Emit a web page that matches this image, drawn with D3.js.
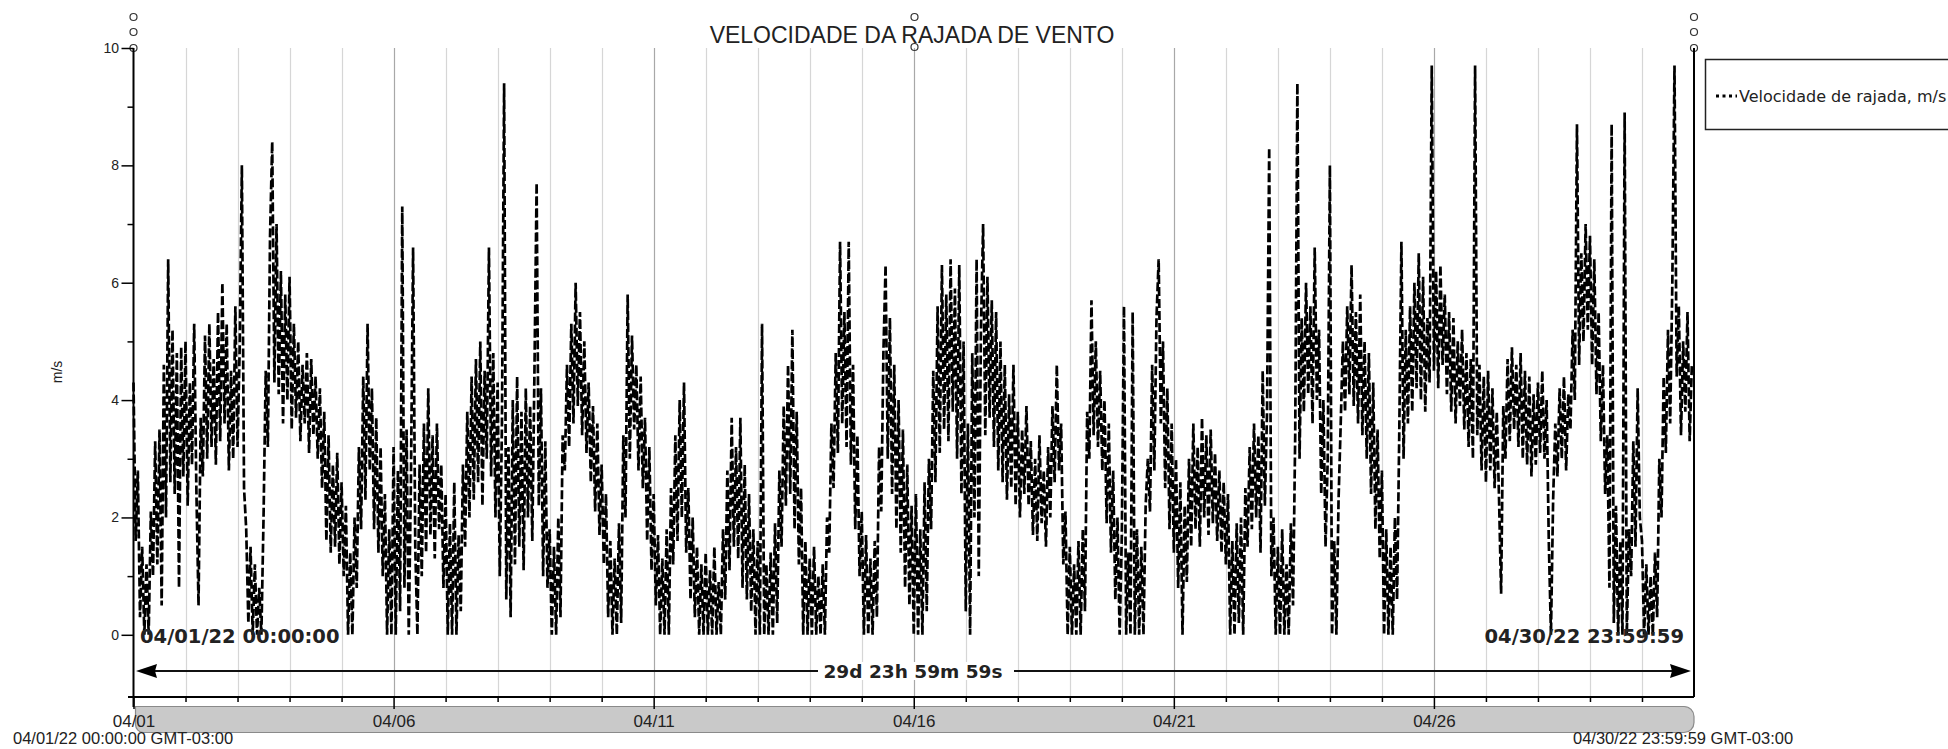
<!DOCTYPE html>
<html>
<head>
<meta charset="utf-8">
<script src="https://cdn.jsdelivr.net/npm/d3@7"></script>
<style>
  body { margin: 0; background: #fff; }
  svg { display: block; }
  text { font-family: "Liberation Sans", Arial, sans-serif; fill: #222; }
</style>
</head>
<body>
<svg id="chart" width="1948" height="749"></svg>
<script>
// --- chart data ---
const chartTitle = "VELOCIDADE DA RAJADA DE VENTO";
const yLabel = "m/s";
const seriesName = "Velocidade de rajada, m/s";
const startLabel = "04/01/22 00:00:00";
const endLabel = "04/30/22 23:59:59";
const spanLabel = "29d 23h 59m 59s";
const footLeft = "04/01/22 00:00:00  GMT-03:00";
const footRight = "04/30/22 23:59:59  GMT-03:00";
const yTicks = [0, 1, 2, 3, 4, 5, 6, 7, 8, 9, 10];
const startDate = new Date(2022, 3, 1, 0, 0, 0);
const endDate = new Date(2022, 3, 30, 23, 59, 59);

// hourly gust speed (m/s), one row per day, 04/01 .. 04/30
const gust = [
  4.3,1.6,2.8,0.3,1.5,0,1.2,0,2.1,1.0,3.3,1.2,3.5,0.5,4.6,2.0,6.4,2.6,5.2,2.4,4.8,0.8,4.9,2.7,
  5.0,2.2,4.3,2.9,5.3,2.5,0.5,3.7,2.7,5.1,3.0,5.3,3.2,4.7,2.9,5.5,3.3,6.0,3.6,5.3,2.8,4.5,3.0,5.6,
  3.2,4.9,8.0,2.5,1.8,0.2,1.5,0,1.2,0,0.8,0,2.0,4.5,3.2,6.8,8.4,4.3,7.0,4.1,6.2,3.6,5.8,4.0,
  6.1,3.5,5.3,3.7,5.0,3.3,4.6,3.6,4.8,3.1,4.7,3.4,4.4,3.0,4.2,2.5,3.8,1.6,3.4,1.4,2.9,1.5,3.1,1.2,
  2.6,1.0,2.2,0,1.4,0,2.0,0.8,3.2,1.8,4.4,2.3,5.3,2.8,4.2,1.8,3.7,1.4,3.2,1.0,2.4,0,1.8,0,
  3.2,0,2.8,0.4,7.3,0.8,3.5,0,2.6,6.6,1.5,0,2.9,1.0,3.6,1.4,4.2,1.7,3.4,1.3,3.6,1.8,2.9,0.8,
  2.4,0,1.9,0,2.6,0,1.7,0.4,2.9,1.5,3.8,2.0,4.4,2.3,4.7,2.6,5.0,2.2,4.5,3.0,6.6,2.7,4.8,2.0,
  4.3,1.0,3.6,9.4,0.6,3.2,0.3,4.0,1.2,4.4,1.5,3.8,1.1,4.2,2.0,3.9,1.6,4.5,7.7,2.2,4.2,1.0,3.3,0.8,
  1.8,0,1.5,0,2.0,0.3,3.4,2.8,4.6,3.2,5.3,3.6,6.0,3.9,5.5,3.4,5.0,3.1,4.3,2.6,3.9,2.1,3.6,1.7,
  2.9,1.2,2.4,0.3,1.6,0,1.3,0,1.9,0.2,3.4,2.0,5.8,3.0,5.1,3.5,4.6,2.8,4.4,2.5,3.7,1.6,3.2,1.1,
  2.4,0.5,1.7,0,1.3,0,1.8,0,2.5,1.2,3.4,1.6,4.0,2.0,4.3,1.4,2.5,0.6,2.0,0.3,1.5,0,1.2,0,
  1.4,0,1.1,0,1.5,0,0.9,0,1.8,0.6,2.8,1.1,3.7,1.5,3.2,1.3,3.7,0.8,2.9,0.6,2.4,0.4,1.8,0,
  1.6,0,5.3,0,1.2,0,1.4,0,1.9,0.2,2.8,1.5,3.9,2.2,4.6,2.4,5.2,1.8,3.8,1.2,2.5,0,1.6,0,
  1.3,0,1.5,0,1.0,0,1.2,0,2.0,1.4,3.6,2.5,4.8,3.1,6.7,3.6,5.5,3.2,6.7,2.9,4.6,1.8,3.4,1.0,
  2.1,0,1.7,0,1.3,0,1.6,0.3,3.2,2.1,4.8,6.3,3.0,5.4,2.4,4.6,1.8,4.0,1.4,3.5,0.8,2.9,0.5,2.2,
  0,2.4,0,1.8,0,2.6,0.4,3.0,1.8,4.5,2.6,5.6,3.1,6.3,3.5,5.8,3.3,6.4,3.8,5.9,3.0,6.3,2.4,5.0,
  0.4,3.6,0,4.8,2.0,6.4,1.0,5.2,7.0,3.4,6.1,3.7,5.7,3.2,5.5,2.8,5.0,2.6,4.6,2.3,4.1,2.5,4.6,2.2,
  3.8,2.0,3.5,2.4,3.9,2.2,3.3,1.7,3.0,1.6,3.4,1.9,2.8,1.5,3.2,2.0,3.9,2.6,4.6,2.8,3.6,1.2,2.1,0,
  1.5,0,1.2,0,1.6,0,1.8,0.4,3.8,3.0,5.7,3.4,5.0,3.2,4.5,2.8,4.0,1.9,3.6,1.4,2.8,0.6,2.0,0,
  1.7,5.6,0,1.4,0,5.5,0,1.8,0,1.5,0,2.2,3.0,2.1,4.6,2.8,5.4,6.4,3.6,5.0,2.5,4.2,1.8,3.6,
  1.4,3.0,0.8,2.6,0,2.2,0.9,3.0,1.5,3.6,1.8,3.2,1.5,3.7,2.0,3.4,1.7,3.5,1.9,3.1,1.6,2.8,1.4,2.6,
  1.2,2.4,0,1.6,0,1.9,0.2,2.0,0,2.5,1.5,3.2,1.8,3.6,2.0,3.4,1.4,4.5,2.2,3.8,8.3,1.0,2.0,0,
  1.5,0,1.8,0,1.2,0,1.9,0.5,3.4,9.4,3.0,5.4,3.8,6.0,4.1,5.6,3.6,6.6,4.0,5.2,2.4,4.0,1.5,3.0,
  8.0,0,1.6,0,2.3,3.6,5.0,3.8,5.6,4.1,6.3,3.9,5.5,3.6,5.8,3.4,5.0,3.0,4.8,2.4,4.3,1.8,3.5,1.3,
  2.8,0,1.8,0,1.5,0,2.0,0.6,3.4,6.7,3.0,5.2,3.6,5.6,3.8,6.0,4.2,6.5,4.0,6.1,3.8,5.4,4.3,9.7,
  4.5,6.2,4.2,6.3,4.6,5.8,4.1,5.5,3.8,5.4,3.6,5.0,3.9,5.2,3.5,4.8,3.2,4.7,3.0,9.7,3.4,4.6,2.8,4.4,
  2.6,4.5,2.8,4.2,2.5,3.8,2.4,0.7,3.9,3.0,4.7,3.3,4.9,3.5,4.6,3.2,4.8,3.0,4.5,2.9,4.4,2.7,4.1,2.9,
  4.3,3.1,4.5,3.0,4.0,1.6,0,2.3,3.6,2.7,4.2,3.0,4.4,2.8,4.1,3.5,5.2,4.0,8.7,4.6,6.5,5.0,7.0,5.2,
  6.8,4.6,6.4,4.1,5.5,3.3,4.6,2.4,3.4,0.8,8.7,0.2,2.2,0,1.6,0,8.9,0,1.8,1.0,3.3,1.5,4.2,2.0,
  1.6,0,1.2,0,1.0,0,1.4,0.3,3.0,2.0,4.4,3.1,5.2,3.6,6.0,9.7,4.4,5.6,3.4,5.0,3.8,5.5,3.3,4.6
];

// --- layout ---
const plot = { left: 133.5, right: 1694, top: 48, bottom: 697 };
const svg = d3.select("#chart");

const x = d3.scaleTime().domain([startDate, endDate]).range([plot.left, plot.right]);
const y = d3.scaleLinear().domain([-1.06, 10]).range([plot.bottom, plot.top]);

const days = d3.timeDay.range(startDate, endDate);
const isMajor = d => (d.getDate() - 1) % 5 === 0;
const fmtDay = d3.timeFormat("%m/%d");

// vertical day grid
svg.append("g")
  .selectAll("line")
  .data(days.slice(1))
  .join("line")
  .attr("x1", d => Math.round(x(d)) + 0.5)
  .attr("x2", d => Math.round(x(d)) + 0.5)
  .attr("y1", plot.top)
  .attr("y2", plot.bottom)
  .attr("stroke", d => isMajor(d) ? "#a8a8a8" : "#d6d6d6")
  .attr("stroke-width", 1.2);

// title
svg.append("text")
  .attr("x", 912)
  .attr("y", 43)
  .attr("text-anchor", "middle")
  .style("font-size", "23px")
  .text(chartTitle);

// little handle circles on top of the axes
const handles = [
  { cx: plot.left, cys: [17, 32, 48] },
  { cx: plot.right, cys: [17, 32, 48] },
  { cx: 914.5, cys: [17, 47] }
];
handles.forEach(h => {
  svg.append("g").selectAll("circle")
    .data(h.cys)
    .join("circle")
    .attr("cx", h.cx)
    .attr("cy", d => d)
    .attr("r", 3.5)
    .attr("fill", "none")
    .attr("stroke", "#333")
    .attr("stroke-width", 1.2);
});

// data line
const line = d3.line()
  .x((d, i) => x(d3.timeHour.offset(startDate, i)))
  .y(d => y(d));

svg.append("path")
  .datum(gust)
  .attr("d", line)
  .attr("fill", "none")
  .attr("stroke", "#000")
  .attr("stroke-width", 2.7)
  .attr("stroke-dasharray", "9,3");

// frame: left axis, right side, bottom
svg.append("line")
  .attr("x1", plot.left).attr("x2", plot.left)
  .attr("y1", plot.top).attr("y2", 707)
  .attr("stroke", "#000").attr("stroke-width", 2);
svg.append("line")
  .attr("x1", plot.right).attr("x2", plot.right)
  .attr("y1", plot.top).attr("y2", plot.bottom)
  .attr("stroke", "#000").attr("stroke-width", 2);
svg.append("line")
  .attr("x1", 128).attr("x2", plot.right)
  .attr("y1", plot.bottom).attr("y2", plot.bottom)
  .attr("stroke", "#000").attr("stroke-width", 2);

// y axis ticks + labels
const yAxis = svg.append("g")
  .attr("transform", `translate(${plot.left},0)`)
  .call(d3.axisLeft(y).tickValues(yTicks).tickSize(12).tickPadding(2)
    .tickFormat(d => d % 2 === 0 ? d : ""));
yAxis.select(".domain").remove();
yAxis.selectAll(".tick line")
  .attr("x2", d => d % 2 === 0 ? -12 : -6)
  .attr("stroke", "#000")
  .attr("stroke-width", 1.5);
yAxis.selectAll(".tick text")
  .attr("x", -14.5)
  .style("font-size", "14px")
  .style("font-family", "'Liberation Sans', Arial, sans-serif")
  .attr("fill", "#222");

svg.append("text")
  .attr("transform", "translate(62,372) rotate(-90)")
  .attr("text-anchor", "middle")
  .style("font-size", "14px")
  .text(yLabel);

// time slider bar under the plot
svg.append("path")
  .attr("d", "M135.5,706.5 H1684 A10,10 0 0 1 1694,716.5 V722.5 A10,10 0 0 1 1684,732.5 H143.5 A8,8 0 0 1 135.5,724.5 Z")
  .attr("fill", "#c9c9c9")
  .attr("stroke", "#8a8a8a")
  .attr("stroke-width", 1.2);

// x axis ticks + labels
const xAxis = svg.append("g")
  .attr("transform", `translate(0,${plot.bottom})`)
  .call(d3.axisBottom(x).tickValues(days).tickSize(5)
    .tickFormat(d => isMajor(d) ? fmtDay(d) : ""));
xAxis.select(".domain").remove();
xAxis.selectAll(".tick line")
  .attr("y2", d => isMajor(d) ? 12 : 5)
  .attr("stroke", "#000")
  .attr("stroke-width", 1.5);
xAxis.selectAll(".tick text")
  .attr("y", 30)
  .attr("dy", null)
  .style("font-size", "17px")
  .style("font-family", "'Liberation Sans', Arial, sans-serif")
  .attr("fill", "#222");

// span annotation: double arrow with duration
const arrowY = 671;
svg.append("line")
  .attr("x1", 150).attr("x2", 1676)
  .attr("y1", arrowY).attr("y2", arrowY)
  .attr("stroke", "#111").attr("stroke-width", 2);
svg.append("path")
  .attr("d", `M136,${arrowY} L157,${arrowY - 7} L155,${arrowY} L157,${arrowY + 7} Z`)
  .attr("fill", "#000");
svg.append("path")
  .attr("d", `M1691,${arrowY} L1670,${arrowY - 7} L1672,${arrowY} L1670,${arrowY + 7} Z`)
  .attr("fill", "#000");
svg.append("rect")
  .attr("x", 818).attr("y", 662)
  .attr("width", 196).attr("height", 18)
  .attr("fill", "#fff");

const boldFont = "'DejaVu Sans', Verdana, sans-serif";
svg.append("text")
  .attr("x", 913).attr("y", 678)
  .attr("text-anchor", "middle")
  .style("font-family", boldFont)
  .style("font-weight", "bold")
  .style("font-size", "18.5px")
  .text(spanLabel);
svg.append("text")
  .attr("x", 140).attr("y", 643)
  .style("font-family", boldFont)
  .style("font-weight", "bold")
  .style("font-size", "19.5px")
  .text(startLabel);
svg.append("text")
  .attr("x", 1684).attr("y", 643)
  .attr("text-anchor", "end")
  .style("font-family", boldFont)
  .style("font-weight", "bold")
  .style("font-size", "19.5px")
  .text(endLabel);

// footer timestamps
svg.append("text")
  .attr("x", 13).attr("y", 744)
  .style("font-size", "16.5px")
  .text(footLeft);
svg.append("text")
  .attr("x", 1573).attr("y", 744)
  .style("font-size", "16.5px")
  .text(footRight);

// legend
const legend = svg.append("g");
legend.append("rect")
  .attr("x", 1705.5).attr("y", 59.5)
  .attr("width", 260).attr("height", 70)
  .attr("fill", "#fff")
  .attr("stroke", "#222")
  .attr("stroke-width", 1.5);
legend.append("line")
  .attr("x1", 1716).attr("x2", 1737)
  .attr("y1", 96).attr("y2", 96)
  .attr("stroke", "#000")
  .attr("stroke-width", 3)
  .attr("stroke-dasharray", "3,3.5");
legend.append("text")
  .attr("x", 1739).attr("y", 101.5)
  .style("font-family", "'DejaVu Sans', Verdana, sans-serif")
  .style("font-size", "16px")
  .text(seriesName);
</script>
</body>
</html>
